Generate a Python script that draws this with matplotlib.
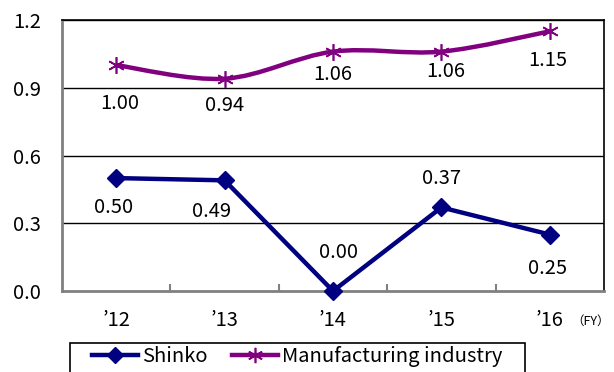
import matplotlib
matplotlib.use("Agg")
import matplotlib.pyplot as plt
from matplotlib.path import Path
from matplotlib.patches import PathPatch, Rectangle
from matplotlib.lines import Line2D
import numpy as np

plt.rcParams['font.family'] = ['Noto Sans CJK JP', 'DejaVu Sans']

# data
years = ["\u201912", "\u201913", "\u201914", "\u201915", "\u201916"]
shinko = [0.50, 0.49, 0.00, 0.37, 0.25]
manufacturing = [1.00, 0.94, 1.06, 1.06, 1.15]
yticks = [0.0, 0.3, 0.6, 0.9, 1.2]

# label offsets in pixels (dx, dy), up is positive
shinko_offsets = [(-3, -29), (-13, -31), (6, 38), (0, 29), (-2, -34)]
manuf_offsets = [(4, -38), (0, -27), (0, -23), (4, -20), (-2, -29)]

NAVY = "#000080"
PURPLE = "#800080"
GRAY = "#808080"
FS = 14.5
W, H = 614, 372


def smooth_path(xs, ys):
    """Bezier path through the points, like an Excel smoothed line"""
    pts = np.column_stack([xs, ys]).astype(float)
    n = len(pts)
    verts = [pts[0]]
    codes = [Path.MOVETO]
    for i in range(n - 1):
        p0 = pts[i - 1] if i > 0 else pts[i]
        p1 = pts[i]
        p2 = pts[i + 1]
        p3 = pts[i + 2] if i + 2 < n else pts[i + 1]
        c1 = p1 + (p2 - p0) / 6.0
        c2 = p2 - (p3 - p1) / 6.0
        verts += [c1, c2, p2]
        codes += [Path.CURVE4] * 3
    return Path(verts, codes)


fig = plt.figure(figsize=(W / 100, H / 100), dpi=100)
ax = fig.add_axes([62 / W, 1 - 291 / H, 542 / W, 271 / H])

x = np.arange(len(years))

ax.set_xlim(-0.5, len(years) - 0.5)
ax.set_ylim(0, 1.2)

for v in yticks[1:]:
    ax.axhline(v, color="black", lw=1.0, zorder=1)

# manufacturing (smoothed)
patch = PathPatch(smooth_path(x, manufacturing), facecolor="none",
                  edgecolor=PURPLE, lw=3.2, zorder=3, capstyle="butt")
ax.add_patch(patch)
ax.plot(x, manufacturing, ls="none", marker=(6, 2, 0), ms=12,
        mec=PURPLE, mew=1.2, zorder=4)

# shinko
ax.plot(x, shinko, color=NAVY, lw=3.2, marker="D", ms=9, mfc=NAVY,
        mec=NAVY, zorder=5, clip_on=False)

for xi, v, (dx, dy) in zip(x, shinko, shinko_offsets):
    ax.annotate(f"{v:.2f}", (xi, v), xytext=(dx, dy),
                textcoords="offset pixels", ha="center", va="center",
                fontsize=FS, color="black")
for xi, v, (dx, dy) in zip(x, manufacturing, manuf_offsets):
    ax.annotate(f"{v:.2f}", (xi, v), xytext=(dx, dy),
                textcoords="offset pixels", ha="center", va="center",
                fontsize=FS, color="black")

# axes styling
ax.set_yticks(yticks)
ax.set_yticklabels([f"{v:.1f}" for v in yticks], fontsize=FS)
ax.tick_params(axis="y", length=0, pad=15)
ax.set_xticks(x)
ax.set_xticklabels(years, fontsize=FS)
ax.tick_params(axis="x", length=0, pad=14)
ax.set_xticks(np.arange(len(years) - 1) + 0.5, minor=True)
ax.tick_params(axis="x", which="minor", direction="in", length=5,
               color=GRAY, width=1.5)

ax.spines["left"].set_color(GRAY)
ax.spines["left"].set_linewidth(2)
ax.spines["bottom"].set_color(GRAY)
ax.spines["bottom"].set_linewidth(2)
ax.spines["right"].set_color("black")
ax.spines["right"].set_linewidth(1.2)
ax.spines["top"].set_color("black")
ax.spines["top"].set_linewidth(1.2)

fig.text(591 / W, 1 - 321 / H, "\uff08FY\uff09", fontsize=9,
         ha="center", va="center")

# legend box (runs off the bottom edge like the original)
fig.patches.append(Rectangle((70 / W, -0.05), 455 / W, 0.05 + (H - 343) / H,
                             transform=fig.transFigure, facecolor="white",
                             edgecolor="black", lw=1.2))

handles = [
    Line2D([], [], color=NAVY, lw=3.2, marker="D", ms=8, mfc=NAVY, mec=NAVY),
    Line2D([], [], color=PURPLE, lw=3.2, marker=(6, 2, 0), ms=11,
           mec=PURPLE, mew=1.2),
]
leg = fig.legend(handles, ["Shinko", "Manufacturing industry"],
                 loc="upper left", bbox_to_anchor=(92 / W, 1 - 346 / H),
                 ncol=2, fontsize=FS, frameon=False,
                 handlelength=2.3, handletextpad=0.2, columnspacing=1.2,
                 borderpad=0, borderaxespad=0)

fig.savefig("out.png", dpi=100)
